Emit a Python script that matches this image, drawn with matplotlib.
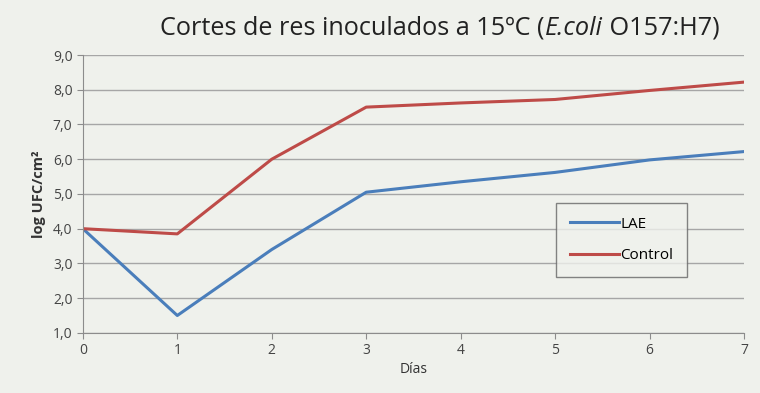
import matplotlib.pyplot as plt
import numpy as np

dias = [0, 1, 2, 3, 4, 5, 6, 7]
lae = [4.0, 1.5, 3.4, 5.05, 5.35, 5.62, 5.98, 6.22]
control = [4.0, 3.85, 6.0, 7.5, 7.62, 7.72, 7.98, 8.22]
yticks = [1, 2, 3, 4, 5, 6, 7, 8, 9]
ytick_labels = ["1,0", "2,0", "3,0", "4,0", "5,0", "6,0", "7,0", "8,0", "9,0"]

bg = "#eff1ec"
plt.rcParams['font.family'] = ['Open Sans', 'DejaVu Sans']

fig = plt.figure(figsize=(7.6, 3.93), dpi=100, facecolor=bg)
ax = fig.add_axes([0.109, 0.153, 0.870, 0.707], facecolor=bg)

ax.plot(dias, lae, color="#4a7ebb", lw=2.2, label="LAE")
ax.plot(dias, control, color="#be4b48", lw=2.2, label="Control")

ax.set_xlim(0, 7)
ax.set_ylim(1, 9)
ax.set_yticks(yticks)
ax.set_yticklabels(ytick_labels)
ax.set_xticks(dias)
ax.grid(axis="y", color="#a6a6a6", lw=1.0)
ax.set_axisbelow(True)
for s in ["top", "right"]:
    ax.spines[s].set_visible(False)
ax.spines["left"].set_color("#8c8c8c")
ax.spines["bottom"].set_color("#8c8c8c")
ax.tick_params(axis="both", colors="#8c8c8c", labelcolor="#444444", labelsize=10, length=4)

ax.set_ylabel("log UFC/cm²", fontsize=10.5, fontweight="bold", color="#333333", labelpad=5)
ax.set_xlabel("Días", fontsize=10, color="#333333", labelpad=3)

t1 = fig.text(0.211, 0.928, "Cortes de res inoculados a 15ºC (", fontsize=18.2,
              ha="left", va="center", color="#222222")
t2 = ax.annotate("E.coli", xy=(1, 0), xycoords=t1, va="bottom", ha="left",
                 fontsize=18.2, style="italic", color="#222222")
t3 = ax.annotate(" O157:H7)", xy=(1, 0), xycoords=t2, va="bottom", ha="left",
                 fontsize=18.2, color="#222222")

leg = ax.legend(loc="upper left", bbox_to_anchor=(0.716, 0.468), frameon=True, fancybox=False,
                fontsize=11, handlelength=3.2, handletextpad=0.1, borderpad=0.9,
                labelspacing=1.1, borderaxespad=0)
leg.get_frame().set_edgecolor("#666666")
leg.get_frame().set_facecolor(bg)
leg.get_frame().set_linewidth(1.0)

plt.savefig("out.png", dpi=100, facecolor=bg)
